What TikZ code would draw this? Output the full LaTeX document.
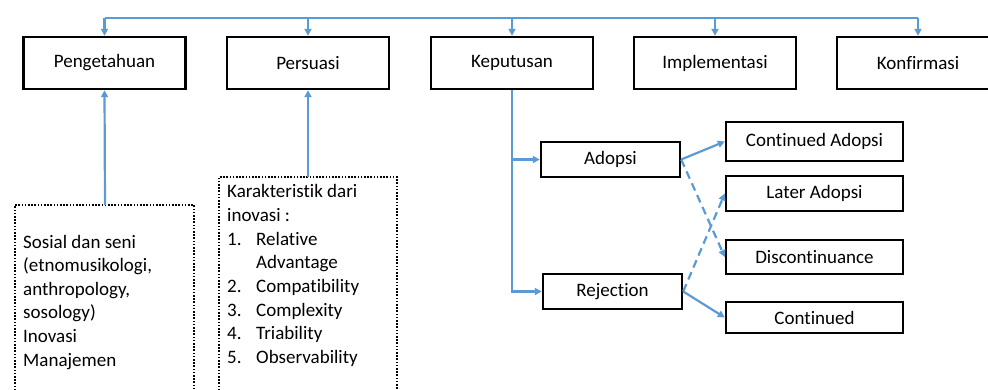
\documentclass[tikz,border=0pt]{standalone}
\usepackage{fontspec}
\setmainfont{Carlito}[Ligatures={NoCommon}]
\usetikzlibrary{arrows.meta}
\definecolor{lineblue}{RGB}{91,155,213}
\tikzset{
  box/.style={draw=black,line width=2.4pt,minimum width=162pt,minimum height=52pt,inner sep=0pt,font=\fontsize{19}{23.6}\selectfont},
  sbox/.style={draw=black,line width=2.4pt,inner sep=0pt,font=\fontsize{19}{23.6}\selectfont},
  conn/.style={draw=lineblue,line width=2.2pt},
  arr/.style={conn,-{Triangle[length=7pt,width=7pt]}},
  dbox/.style={draw=black,line width=2.2pt,dash pattern=on 1.6pt off 1.6pt},
  txt/.style={anchor=base west,inner sep=0pt,font=\fontsize{19}{23.6}\selectfont}
}
\begin{document}
\begin{tikzpicture}[x=1pt,y=-1pt]
\useasboundingbox[fill=white] (0,0) rectangle (988,390);
% top boxes
\node[box] (pe) at (104.5,63) {Pengetahuan};
\node[box] (ps) at (308,63) {Persuasi};
\node[box] (ke) at (512,63) {Keputusan};
\node[box] (im) at (715,63) {Implementasi};
\node[box] (ko) at (918,63) {Konfirmasi};
% top bus
\coordinate (tl) at (104.5,18);
\coordinate (tr) at (918,18);
\draw[conn] (tl) -- (tr);
\foreach \n in {pe,ps,ke,im,ko}{\draw[arr] (\n.north |- tl) -- (\n.north);}
% decision boxes
\node[sbox,minimum width=139pt,minimum height=35pt] (ad) at (610.5,159.5) {Adopsi};
\node[sbox,minimum width=139pt,minimum height=35pt] (rj) at (612.5,291.5) {Rejection};
\node[sbox,minimum width=177pt,minimum height=39pt] (ca) at (814.5,141.5) {Continued Adopsi};
\node[sbox,minimum width=177pt,minimum height=35pt] (la) at (814.5,193.5) {Later Adopsi};
\node[sbox,minimum width=177pt,minimum height=34pt] (dc) at (814.5,257) {Discontinuance};
\node[sbox,minimum width=177pt,minimum height=31pt] (co) at (814.5,317.5) {Continued};
\draw[arr] (ke.south) |- (rj.west);
\draw[arr] (ke.south |- ad.west) -- (ad.west);
\draw[arr] (ad.east) -- (ca.west);
\draw[arr,dash pattern=on 8pt off 5pt] (ad.east) -- (dc.west);
\draw[arr,dash pattern=on 8pt off 5pt] (rj.east) -- (la.west);
\draw[arr] (rj.east) -- (co.west);
% dotted boxes
\coordinate (d1) at (105,205);
\coordinate (d2) at (308,177);
\draw[dbox] (15,400) -- (15,205) -- (194,205) -- (194,400);
\draw[dbox] (219,400) -- (219,177) -- (397,177) -- (397,400);
\draw[arr] (d1) -- (pe.south);
\draw[arr] (d2) -- (ps.south);
% texts box 1
\node[txt] (a1) at (23,248) {Sosial dan seni};
\node[txt] (a2) at (23,271.6) {(etnomusikologi,};
\node[txt] (a3) at (23,295.2) {anthropology,};
\node[txt] (a4) at (23,318.8) {sosology)};
\node[txt] (a5) at (23,342.4) {Inovasi};
\node[txt] (a6) at (23,366) {Manajemen};
% texts box 2
\node[txt] (b1) at (227,198) {Karakteristik dari};
\node[txt] (b2) at (227,221.6) {inovasi :};
\node[txt] (n1) at (227,245.2) {1.};
\node[txt] (c1) at (256,245.2) {Relative};
\node[txt] (c1b) at (256,268.8) {Advantage};
\node[txt] (n2) at (227,292.4) {2.};
\node[txt] (c2) at (256,292.4) {Compatibility};
\node[txt] (n3) at (227,316) {3.};
\node[txt] (c3) at (256,316) {Complexity};
\node[txt] (n4) at (227,339.6) {4.};
\node[txt] (c4) at (256,339.6) {Triability};
\node[txt] (n5) at (227,363.2) {5.};
\node[txt] (c5) at (256,363.2) {Observability};
\end{tikzpicture}
\end{document}
